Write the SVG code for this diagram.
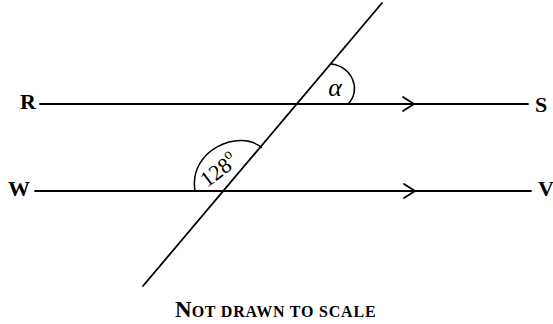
<svg xmlns="http://www.w3.org/2000/svg" width="553" height="324" viewBox="0 0 553 324">
<style>
.ln{stroke:#000;stroke-width:1.8;fill:none;stroke-linecap:round}
.arc{stroke:#000;stroke-width:1.5;fill:none}
.lbl{font-family:"Liberation Serif","DejaVu Serif",serif;font-weight:bold;font-size:22px;fill:#000}
.ang{font-family:"Liberation Serif","DejaVu Serif",serif;fill:#000}
</style>
<rect width="553" height="324" fill="#fff"/>
<g id="connectors">
<line id="RS" class="ln" x1="40" y1="104" x2="528" y2="104"/>
<line id="WV" class="ln" x1="35" y1="191" x2="531" y2="191"/>
<line id="transversal" class="ln" x1="382" y1="3" x2="143" y2="286"/>
<path class="ln" d="M403,97 L414,104 L403,111"/>
<path class="ln" d="M404,184 L415,191 L404,198"/>
</g>
<g id="angle-alpha">
<path class="arc" d="M331,64 C352,66 362,90 348,104"/>
<text class="ang" x="335" y="96" font-size="26" font-style="italic" text-anchor="middle">α</text>
</g>
<g id="angle-128">
<path class="arc" d="M195,191 C188,150 240,128 262,148"/>
<text class="ang" font-size="22" transform="translate(207,188) rotate(-37)">128<tspan font-size="15" dy="-10">o</tspan></text>
</g>
<g id="R"><text class="lbl" x="20" y="109">R</text></g>
<g id="S"><text class="lbl" x="535" y="112">S</text></g>
<g id="W"><text class="lbl" x="8" y="196">W</text></g>
<g id="V"><text class="lbl" x="538" y="196">V</text></g>
<g id="caption"><text class="lbl" x="175" y="317"><tspan font-size="23">N</tspan><tspan font-size="16" letter-spacing="0.8">OT DRAWN TO SCALE</tspan></text></g>
</svg>
